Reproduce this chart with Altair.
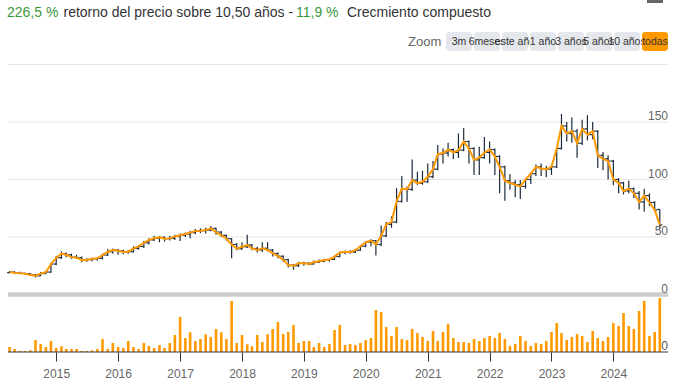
import altair as alt
import pandas as pd

FONT = "Liberation Sans"

# ---------------- data ----------------
first_month = "2014-04-01"
last_month = "2024-10-01"

closes = [19.5, 18.8, 18.4, 18.0, 17.0, 16.3, 18.2, 19.5, 26.5, 32.0,
          35.5, 34.5, 32.5, 32.0, 29.8, 30.3, 31.0, 31.5, 34.3, 37.2,
          38.7, 38.0, 37.0, 37.2, 40.0, 41.8, 45.0, 47.5, 49.0, 49.7,
          48.5, 48.8, 50.5, 51.6, 52.6, 53.8, 55.2, 55.5, 56.0, 57.5,
          54.3, 51.5, 48.5, 43.5, 39.8, 41.5, 43.0, 40.0, 38.8, 40.2,
          38.7, 35.7, 33.3, 30.3, 25.5, 25.0, 27.2, 27.2, 26.5, 28.2,
          29.0, 30.0, 30.5, 33.0, 36.5, 37.2, 37.0, 38.5, 42.0, 45.5,
          46.8, 43.5, 51.0, 61.0, 63.0, 81.0, 92.0, 91.5, 99.5, 96.7,
          98.0, 102.4, 109.0, 122.0, 123.0, 126.0, 123.5, 125.5, 133.0, 127.0,
          117.0, 119.0, 123.5, 126.0, 120.0, 111.0, 99.0, 97.0, 95.5, 94.0,
          100.0, 105.0, 111.0, 109.5, 109.0, 111.0, 127.0, 146.5, 140.0, 142.0,
          131.5, 144.0, 139.0, 142.0, 121.0, 118.0, 116.0, 100.0, 97.0, 90.0,
          92.0, 88.0, 80.5, 86.0, 80.0, 73.5, 60.5]

opens = [19.0, 19.5, 18.8, 18.4, 18.0, 17.0, 16.3, 18.2, 19.5, 26.5,
         32.0, 35.5, 34.5, 32.5, 32.0, 29.8, 30.3, 31.0, 31.5, 34.3,
         37.2, 38.7, 38.0, 37.0, 37.2, 40.0, 41.8, 45.0, 47.5, 49.0,
         49.7, 48.5, 48.8, 50.5, 51.6, 52.6, 53.8, 55.2, 55.5, 56.0,
         57.5, 54.3, 51.5, 48.5, 43.5, 39.8, 41.5, 43.0, 40.0, 38.8,
         40.2, 38.7, 35.7, 33.3, 30.3, 25.5, 25.0, 27.2, 27.2, 26.5,
         28.2, 29.0, 30.0, 30.5, 33.0, 36.5, 37.2, 37.0, 38.5, 42.0,
         45.5, 46.8, 43.5, 51.0, 61.0, 63.0, 81.0, 92.0, 91.5, 99.5,
         96.7, 98.0, 102.4, 109.0, 122.0, 123.0, 126.0, 123.5, 125.5, 133.0,
         127.0, 117.0, 119.0, 123.5, 126.0, 120.0, 111.0, 99.0, 97.0, 95.5,
         94.0, 100.0, 105.0, 111.0, 109.5, 109.0, 111.0, 127.0, 146.5, 140.0,
         142.0, 131.5, 144.0, 139.0, 142.0, 121.0, 118.0, 116.0, 100.0, 97.0,
         90.0, 92.0, 88.0, 80.5, 86.0, 80.0, 74.0]

highs = [20.5, 20.0, 19.8, 19.0, 18.6, 17.8, 19.5, 20.2, 27.5, 33.5,
         37.5, 36.5, 35.5, 34.5, 33.0, 31.5, 32.0, 32.5, 35.5, 39.5,
         40.0, 39.5, 39.0, 38.5, 42.0, 43.0, 46.5, 49.0, 51.0, 51.0,
         50.5, 51.0, 52.0, 53.0, 54.0, 55.5, 57.0, 57.5, 58.0, 59.5,
         58.0, 55.0, 52.0, 49.0, 44.5, 45.5, 52.0, 44.0, 41.5, 45.5,
         45.5, 39.5, 36.5, 34.0, 31.0, 26.5, 28.5, 28.5, 28.0, 29.5,
         30.5, 31.0, 31.0, 34.0, 37.5, 38.0, 38.5, 39.5, 43.0, 46.5,
         48.0, 47.5, 60.0, 63.0, 68.0, 92.5, 103.0, 94.0, 117.5, 106.8,
         107.6, 114.0, 116.0, 130.0, 127.0, 132.0, 127.0, 140.0, 144.8, 134.0,
         128.0, 128.5, 137.0, 133.0, 127.0, 121.0, 112.0, 104.8, 99.6, 99.6,
         101.0, 106.0, 113.0, 114.0, 112.0, 112.0, 128.0, 157.0, 150.0, 154.0,
         144.0, 152.0, 156.0, 150.0, 143.0, 124.0, 121.0, 117.0, 101.0, 98.0,
         99.0, 93.0, 90.0, 92.0, 88.0, 81.0, 74.0]

lows = [18.5, 18.2, 17.8, 17.2, 16.5, 14.8, 16.0, 17.8, 19.0, 25.5,
        31.0, 32.5, 31.0, 31.0, 28.0, 28.5, 29.0, 29.5, 30.5, 33.5,
        35.5, 34.5, 35.0, 35.5, 36.5, 39.0, 40.5, 43.5, 46.5, 45.5,
        46.0, 47.0, 47.5, 46.5, 50.0, 49.0, 52.5, 53.5, 53.0, 55.0,
        52.0, 50.0, 47.0, 31.5, 38.5, 39.0, 40.5, 38.5, 36.5, 37.0,
        37.5, 33.0, 31.5, 28.5, 23.5, 21.5, 24.0, 25.0, 25.5, 26.0,
        27.5, 28.0, 28.5, 30.0, 32.5, 35.0, 35.5, 36.0, 38.0, 41.0,
        42.0, 34.0, 42.0, 50.0, 58.0, 62.0, 80.0, 80.7, 90.0, 95.0,
        95.5, 97.0, 101.0, 108.0, 114.0, 120.0, 117.8, 118.7, 124.5, 114.0,
        104.0, 104.0, 118.0, 114.0, 104.0, 88.0, 81.6, 91.0, 84.5, 83.0,
        92.0, 96.0, 103.0, 103.0, 102.0, 104.0, 110.0, 126.0, 133.0, 132.0,
        119.0, 130.0, 134.0, 135.0, 110.0, 108.0, 100.0, 95.0, 88.0, 87.0,
        88.0, 84.0, 74.0, 72.0, 77.0, 72.0, 57.0]

volumes = [5, 3, 1, 1, 1.7, 12, 8, 5, 11, 4,
           5.7, 3, 3, 3, 1, 1, 1.7, 3, 13, 3,
           9, 5, 4, 11, 5, 3, 9, 6, 4, 7,
           4, 9, 17, 35, 14, 19.7, 11, 13, 17.7, 15,
           23, 19.7, 13, 51, 9, 17, 7.7, 5.7, 17, 10,
           17.7, 23, 30, 18, 20, 27, 9, 11, 11, 5,
           9, 5, 8, 22, 27, 7,
           8, 7, 9, 12, 14, 42, 40, 25, 16, 25,
           13, 12, 23, 19, 15, 11, 21, 11, 20, 28,
           14, 10, 10, 9, 13, 11, 14, 16, 14, 19,
           13, 6, 8, 16, 11, 6, 9, 8, 11, 20,
           29, 19, 12, 15, 18, 16, 10, 21, 14, 11,
           15, 29, 26, 39, 26, 23, 41, 51, 16, 20,
           54]

tick_years = [2015, 2016, 2017, 2018, 2019, 2020, 2021, 2022, 2023, 2024]
price_labels = [0, 50, 100, 150]
grid_levels = [50, 100, 150, 200]
price_domain = [0, 200]
volume_domain = [0, 54]

title_parts = ["226,5 %", "retorno del precio sobre 10,50 años -", "11,9 %", "Crecmiento compuesto"]
zoom_label = "Zoom"
zoom_buttons = ["3m", "6meses", "este año", "1 año", "3 años", "5 años", "10 años", "todas"]
selected_button = "todas"

# ---------------- layout / style ----------------
title_x = [7, 63.5, 296, 347]
title_colors = ["#3a9a3a", "#333333", "#3a9a3a", "#333333"]
button_left = [446, 474, 502, 530, 558, 586, 614, 642]
button_w = 26
ORANGE = "#ff9900"
DARK = "#1c2b3b"

months = pd.date_range(first_month, periods=len(closes), freq="MS")
df = pd.DataFrame({"date": months, "open": opens, "high": highs,
                   "low": lows, "close": closes, "volume": volumes})


def dt(s):
    y, m, d = [int(p) for p in s.split("-")]
    return alt.DateTime(year=y, month=m, date=d)


xscale = alt.Scale(domain=[dt(first_month), dt(last_month)], range=[9.6, 659.8],
                   nice=False, padding=0)
xaxis = alt.Axis(values=[alt.DateTime(year=y, month=1, date=1) for y in tick_years],
                 format="%Y", title=None, domain=False, grid=False,
                 tickSize=9, tickColor="#333333", tickWidth=1,
                 labelColor="#666666", labelFontSize=12, labelFont=FONT,
                 labelPadding=7, labelFlush=False, labelOverlap=False)
X = alt.X("date:T", scale=xscale, axis=xaxis)

pscale = alt.Scale(domain=price_domain, range=[294.5, 64.5], nice=False, zero=False)
vscale = alt.Scale(domain=volume_domain, range=[352, 298], nice=False, zero=False)

base = alt.Chart(df)

grid_df = pd.DataFrame({"level": grid_levels})
grid = alt.Chart(grid_df).mark_rule(color="#e6e6e6", strokeWidth=1).encode(
    x=alt.value(8), x2=alt.value(668),
    y=alt.Y("level:Q", scale=pscale, axis=None))

zero_df = pd.DataFrame({"level": [price_domain[0]]})
zero_bar = alt.Chart(zero_df).mark_rule(color="#cccccc", strokeWidth=4.5).encode(
    x=alt.value(8), x2=alt.value(668),
    y=alt.Y("level:Q", scale=pscale, axis=None))

hl = base.mark_rule(color=DARK, strokeWidth=1.2).encode(
    x=X, y=alt.Y("low:Q", scale=pscale, axis=None), y2="high:Q")
open_tick = base.mark_rule(color=DARK, strokeWidth=1.2, xOffset=-2.5, x2Offset=0).encode(
    x=X, x2="date:T", y=alt.Y("open:Q", scale=pscale, axis=None))
close_tick = base.mark_rule(color=DARK, strokeWidth=1.2, xOffset=0, x2Offset=2.5).encode(
    x=X, x2="date:T", y=alt.Y("close:Q", scale=pscale, axis=None))
line = base.mark_line(color=ORANGE, strokeWidth=2).encode(
    x=X, y=alt.Y("close:Q", scale=pscale, axis=None))

vol = base.mark_bar(color=ORANGE, size=2.6).encode(
    x=X, y=alt.Y("volume:Q", scale=vscale, axis=None))

vbase_df = pd.DataFrame({"v": [volume_domain[0]]})
vbaseline = alt.Chart(vbase_df).mark_rule(color="#333333", strokeWidth=1).encode(
    x=alt.value(8), x2=alt.value(668),
    y=alt.Y("v:Q", scale=vscale, axis=None))
vlabel = alt.Chart(vbase_df).mark_text(align="right", baseline="middle", dy=-6,
                                        fontSize=12, font=FONT, color="#555555").encode(
    x=alt.value(668), y=alt.Y("v:Q", scale=vscale, axis=None), text="v:Q")

plabel_df = pd.DataFrame({"level": price_labels})
plabels = alt.Chart(plabel_df).mark_text(align="right", baseline="middle", dy=-6,
                                          fontSize=12, font=FONT, color="#666666").encode(
    x=alt.value(668), y=alt.Y("level:Q", scale=pscale, axis=None), text="level:Q")

layers = [grid, zero_bar, hl, open_tick, close_tick, line, vol, vbaseline, vlabel, plabels]

# title line
for txt, tx, col in zip(title_parts, title_x, title_colors):
    layers.append(alt.Chart(pd.DataFrame({"t": [txt]})).mark_text(
        align="left", baseline="middle", fontSize=14, font=FONT, color=col).encode(
        x=alt.value(tx), y=alt.value(13), text="t:N"))

# export icon stub at top right
layers.append(alt.Chart(pd.DataFrame({"t": ["menu"]})).mark_rect(color="#666666").encode(
    x=alt.value(647), x2=alt.value(663), y=alt.value(0), y2=alt.value(3)))

# zoom label and buttons
layers.append(alt.Chart(pd.DataFrame({"t": [zoom_label]})).mark_text(
    align="left", baseline="middle", fontSize=13, font=FONT, color="#666666").encode(
    x=alt.value(408), y=alt.value(42), text="t:N"))
for lab, bx in zip(zoom_buttons, button_left):
    fill = ORANGE if lab == selected_button else "#e4e7ec"
    bdf = pd.DataFrame({"t": [lab]})
    layers.append(alt.Chart(bdf).mark_rect(fill=fill, cornerRadius=3).encode(
        x=alt.value(bx), x2=alt.value(bx + button_w), y=alt.value(32), y2=alt.value(51)))
    layers.append(alt.Chart(bdf).mark_text(
        align="center", baseline="middle", fontSize=10.5, font=FONT, color="#333333").encode(
        x=alt.value(bx + button_w / 2), y=alt.value(42), text="t:N"))

chart = alt.layer(*layers).resolve_scale(y="independent").properties(
    width=692, height=352,
    padding={"left": 0, "right": 0, "top": 0, "bottom": 32},
    autosize=alt.AutoSizeParams(type="none"),
    background="white",
).configure_view(stroke=None)

chart.save("out.html", embed_options={"renderer": "svg", "actions": False})
